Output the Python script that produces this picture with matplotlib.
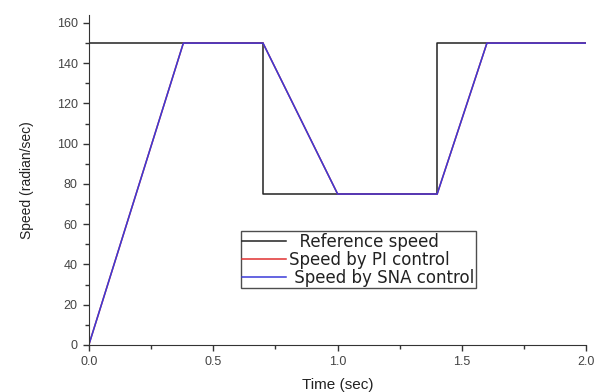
import matplotlib
matplotlib.use("Agg")
import matplotlib.pyplot as plt
from matplotlib.ticker import MultipleLocator

plt.rcParams["font.family"] = ["Liberation Sans", "DejaVu Sans"]

# reference speed command
ref_t = [0.0, 0.7, 0.7, 1.4, 1.4, 2.0]
ref_w = [150, 150, 75, 75, 150, 150]

# PI controller response (drawn under SNA, same track)
pi_t = [0.0, 0.38, 0.7, 1.0, 1.4, 1.6, 2.0]
pi_w = [0, 150, 150, 75, 75, 150, 150]

# SNA controller response
sna_t = [0.0, 0.38, 0.7, 1.0, 1.4, 1.6, 2.0]
sna_w = [0, 150, 150, 75, 75, 150, 150]

fig = plt.figure(figsize=(5.96, 3.92), dpi=100)
ax = fig.add_axes([0.149, 0.12, 0.835, 0.842])

ax.plot(ref_t, ref_w, color="#222222", lw=1.1, label="  Reference speed")
ax.plot(pi_t, pi_w, color="#e03030", lw=1.1, label="Speed by PI control")
ax.plot(sna_t, sna_w, color="#3a3ad8", lw=1.1, label=" Speed by SNA control")

ax.set_xlim(0, 2.0)
ax.set_ylim(0, 164)
ax.xaxis.set_major_locator(MultipleLocator(0.5))
ax.xaxis.set_minor_locator(MultipleLocator(0.25))
ax.yaxis.set_major_locator(MultipleLocator(20))
ax.yaxis.set_minor_locator(MultipleLocator(10))
ax.xaxis.set_major_formatter(plt.FormatStrFormatter("%.1f"))

ax.spines["top"].set_visible(False)
ax.spines["right"].set_visible(False)
ax.spines["left"].set_color("#333333")
ax.spines["bottom"].set_color("#333333")
ax.tick_params(which="major", direction="out", length=4, width=1, colors="#333333",
               labelsize=9, labelcolor="#444444", pad=4)
ax.tick_params(which="minor", direction="out", length=3, width=1, colors="#333333")

ax.set_xlabel("Time (sec)", fontsize=11, color="#222222", labelpad=7)
ax.set_ylabel("Speed (radian/sec)", fontsize=10, color="#222222", labelpad=16)

leg = ax.legend(loc="lower left", bbox_to_anchor=(0.305, 0.172),
                prop={"family": "DejaVu Sans", "size": 12},
                frameon=True, fancybox=False, handlelength=2.6, handletextpad=0.2,
                borderpad=0.1, labelspacing=0.0, borderaxespad=0)
leg.get_frame().set_edgecolor("#222222")
leg.get_frame().set_linewidth(1.0)
for txt in leg.get_texts():
    txt.set_color("#222222")

fig.savefig("out.png", dpi=100)
